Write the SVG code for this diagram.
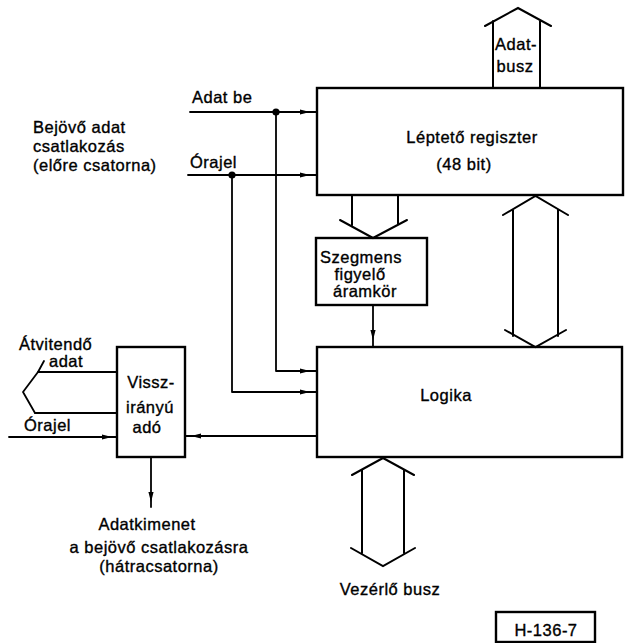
<svg xmlns="http://www.w3.org/2000/svg" xmlns:xlink="http://www.w3.org/1999/xlink" width="626" height="643" viewBox="0 0 626 643">
<defs>
<style>
.box{fill:none;stroke:#000;stroke-width:2.4}
.ln{fill:none;stroke:#000;stroke-width:1.8;stroke-linejoin:round;stroke-linecap:round}
.bus{fill:none;stroke:#000;stroke-width:2;stroke-linejoin:miter;stroke-linecap:round}
text{font-family:"Liberation Sans","DejaVu Sans",sans-serif;font-size:16.5px;letter-spacing:0.5px;fill:#000;stroke:#000;stroke-width:0.35}
.m{text-anchor:middle}
</style>
<polygon id="ah" points="1,0 -9,-2.6 -9,2.6" fill="#000"/>
</defs>
<rect width="626" height="643" fill="#fff"/>

<g id="connectors">
  <!-- Adat be -->
  <path class="ln" d="M190,112 H317"/>
  <path class="ln" d="M276,112 V371 H317"/>
  <circle cx="276" cy="112" r="3.6"/>
  <use xlink:href="#ah" href="#ah" transform="translate(309,112)"/>
  <use xlink:href="#ah" href="#ah" transform="translate(309,371)"/>
  <!-- Órajel -->
  <path class="ln" d="M188,175 H317"/>
  <path class="ln" d="M232,175 V392 H317"/>
  <circle cx="232" cy="175" r="3.6"/>
  <use xlink:href="#ah" href="#ah" transform="translate(309,175)"/>
  <use xlink:href="#ah" href="#ah" transform="translate(309,392)"/>
  <!-- Szegmens to Logika -->
  <path class="ln" d="M373,305 V347"/>
  <use xlink:href="#ah" href="#ah" transform="translate(373,339) rotate(90)"/>
  <!-- Logika to Vissz -->
  <path class="ln" d="M317,436 H185"/>
  <use xlink:href="#ah" href="#ah" transform="translate(192,436) rotate(180)"/>
  <!-- Órajel input to Vissz -->
  <path class="ln" d="M9,437 H117"/>
  <use xlink:href="#ah" href="#ah" transform="translate(111,437)"/>
  <!-- Átvitendő adat / Órajel lines with brace -->
  <path class="ln" d="M38,372 H117"/>
  <path class="ln" d="M35,413 H117"/>
  <path class="ln" d="M44,361 L38,372 L23,392 L35,413"/>
  <!-- Vissz output -->
  <path class="ln" d="M151,457 V507"/>
  <use xlink:href="#ah" href="#ah" transform="translate(151,501) rotate(90)"/>
  <!-- Adat-busz -->
  <path class="bus" d="M493,88 V21 M540,88 V21 M485,26 L518,8 L551,26"/>
  <!-- Register to Szegmens -->
  <path class="bus" d="M352,195 V225 M398,195 V225 M340,220 L373,238 L407,220"/>
  <!-- Register <-> Logika -->
  <path class="bus" d="M513,210 V336 M558,210 V336 M503,215 L535.5,196 L568,215 M505,330 L535.5,347 L566,330"/>
  <!-- Vezérlő busz -->
  <path class="bus" d="M362,470 V553 M404,470 V553 M352,475 L383,458 L414,475 M351,548 L383,566 L415,548"/>
</g>

<g id="leptreg">
  <rect class="box" x="317" y="88" width="306" height="107"/>
  <text x="472" y="143" class="m">Léptető regiszter</text>
  <text x="464" y="170" class="m">(48 bit)</text>
</g>
<g id="adatbusz">
  <text x="516" y="50" class="m">Adat-</text>
  <text x="515" y="72" class="m">busz</text>
</g>
<g id="szegmens">
  <rect class="box" x="316" y="238" width="111" height="67"/>
  <text x="361" y="263" class="m">Szegmens</text>
  <text x="360" y="280" class="m">figyelő</text>
  <text x="365" y="297" class="m">áramkör</text>
</g>
<g id="logika">
  <rect class="box" x="317" y="347" width="305" height="110"/>
  <text x="446" y="401" class="m">Logika</text>
</g>
<g id="vissz">
  <rect class="box" x="117" y="347" width="68" height="110"/>
  <text x="151" y="388" class="m">Vissz-</text>
  <text x="150" y="413" class="m">irányú</text>
  <text x="147" y="433" class="m">adó</text>
</g>
<g id="labels">
  <text x="192" y="103">Adat be</text>
  <text x="190" y="168">Órajel</text>
  <text x="33" y="133">Bejövő adat</text>
  <text x="33" y="152">csatlakozás</text>
  <text x="33" y="171">(előre csatorna)</text>
  <text x="19" y="350">Átvitendő</text>
  <text x="49" y="367">adat</text>
  <text x="24" y="431">Órajel</text>
  <text x="147" y="530" class="m">Adatkimenet</text>
  <text x="159" y="553" class="m">a bejövő csatlakozásra</text>
  <text x="159" y="572" class="m">(hátracsatorna)</text>
  <text x="390" y="595" class="m">Vezérlő busz</text>
</g>
<g id="figid">
  <rect class="box" x="496" y="612" width="99" height="30"/>
  <text x="546" y="636" class="m">H-136-7</text>
</g>
</svg>
